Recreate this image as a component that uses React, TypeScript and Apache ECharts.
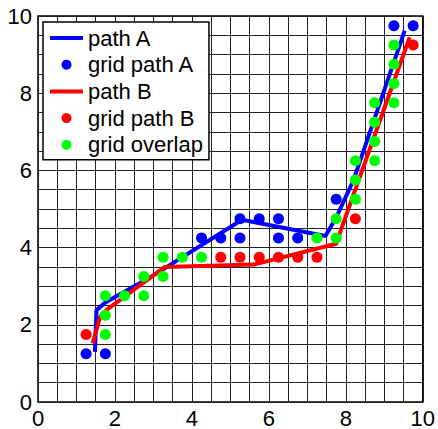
import React, { useEffect, useRef } from "react";
import * as echarts from "echarts";

const pathA: [number, number][] = [
  [1.48, 1.3], [1.52, 2.38], [1.75, 2.58], [3.0, 3.28], [5.3, 4.72],
  [7.47, 4.3], [7.75, 4.78], [8.2, 5.75], [9.53, 9.62],
];
const pathB: [number, number][] = [
  [1.42, 1.52], [1.62, 2.22], [1.8, 2.4], [3.3, 3.5], [5.6, 3.56],
  [7.75, 4.1], [7.87, 4.45], [9.66, 9.45],
];
const gridPathA: [number, number][] = [
  [1.25, 1.25], [1.75, 1.25], [4.25, 4.25], [4.75, 4.25], [5.25, 4.25],
  [5.25, 4.75], [5.75, 4.75], [6.25, 4.75], [6.25, 4.25], [6.75, 4.25],
  [7.75, 5.25], [9.25, 9.75], [9.75, 9.75],
];
const gridPathB: [number, number][] = [
  [1.25, 1.75], [4.75, 3.75], [5.25, 3.75], [5.75, 3.75], [6.25, 3.75],
  [6.75, 3.75], [7.25, 3.75], [8.25, 4.75], [9.75, 9.25],
];
const gridOverlap: [number, number][] = [
  [1.75, 1.75], [1.75, 2.25], [1.75, 2.75], [2.25, 2.75], [2.75, 2.75],
  [2.75, 3.25], [3.25, 3.25], [3.25, 3.75], [3.75, 3.75], [4.25, 3.75],
  [7.25, 4.25], [7.75, 4.25], [7.75, 4.75], [8.25, 5.25], [8.25, 5.75],
  [8.25, 6.25], [8.75, 6.25], [8.75, 6.75], [8.75, 7.25], [8.75, 7.75],
  [9.25, 7.75], [9.25, 8.25], [9.25, 8.75], [9.25, 9.25],
];
const seriesNames = ["path A", "grid path A", "path B", "grid path B", "grid overlap"];
const tickLabels = ["0", "2", "4", "6", "8", "10"];

const FONT = "Liberation Sans";
const LINE_ICON = "path://M0,0L0.01,0M0,3L33,3L33,7L0,7ZM0,10L0.01,10";

export default function App() {
  const ref = useRef<HTMLDivElement>(null);
  useEffect(() => {
    document.body.style.margin = "0";
    const chart = echarts.init(ref.current!, null, { renderer: "svg" });
    const fmt = (v: number) => (tickLabels.includes(String(v)) ? String(v) : "");
    const axisCommon = {
      type: "value" as const,
      min: 0,
      max: 10,
      interval: 0.5,
      axisLine: { show: false },
      axisTick: { show: false },
      splitLine: { show: true, lineStyle: { color: "#222", width: 1 } },
      axisLabel: {
        formatter: fmt,
        fontSize: 22,
        fontFamily: FONT,
        color: "#000",
        showMinLabel: true,
        showMaxLabel: true,
      },
    };
    chart.setOption({
      animation: false,
      backgroundColor: "#fff",
      grid: {
        left: 38,
        top: 16,
        width: 386,
        height: 386,
        show: true,
        borderColor: "#000",
        borderWidth: 1.5,
        backgroundColor: "transparent",
      },
      xAxis: { ...axisCommon, axisLabel: { ...axisCommon.axisLabel, margin: 5 } },
      yAxis: { ...axisCommon, axisLabel: { ...axisCommon.axisLabel, margin: 6 } },
      legend: {
        data: seriesNames.map((n, i) =>
          i === 0 || i === 2 ? { name: n, icon: LINE_ICON } : { name: n }
        ),
        orient: "vertical",
        left: 43,
        top: 22,
        backgroundColor: "#fff",
        borderColor: "#000",
        borderWidth: 1.5,
        borderRadius: 0,
        padding: [5, 6, 4, 7],
        itemWidth: 33,
        itemHeight: 10,
        itemGap: 4.7,
        textStyle: { fontSize: 22, fontFamily: FONT, color: "#000", lineHeight: 22 },
      },
      series: [
        {
          name: "path A",
          type: "line",
          data: pathA,
          symbol: "none",
          lineStyle: { color: "#0000ff", width: 4 },
          itemStyle: { color: "#0000ff" },
          z: 2,
        },
        {
          name: "grid path A",
          type: "scatter",
          data: gridPathA,
          symbolSize: 11,
          itemStyle: { color: "#0000ff", opacity: 1 },
          z: 3,
        },
        {
          name: "path B",
          type: "line",
          data: pathB,
          symbol: "none",
          lineStyle: { color: "#ff0000", width: 4 },
          itemStyle: { color: "#ff0000" },
          z: 4,
        },
        {
          name: "grid path B",
          type: "scatter",
          data: gridPathB,
          symbolSize: 11,
          itemStyle: { color: "#ff0000", opacity: 1 },
          z: 5,
        },
        {
          name: "grid overlap",
          type: "scatter",
          data: gridOverlap,
          symbolSize: 11,
          itemStyle: { color: "#00ff00", opacity: 1 },
          z: 6,
        },
      ],
    });
    return () => chart.dispose();
  }, []);
  return <div ref={ref} style={{ width: 438, height: 429 }} />;
}
